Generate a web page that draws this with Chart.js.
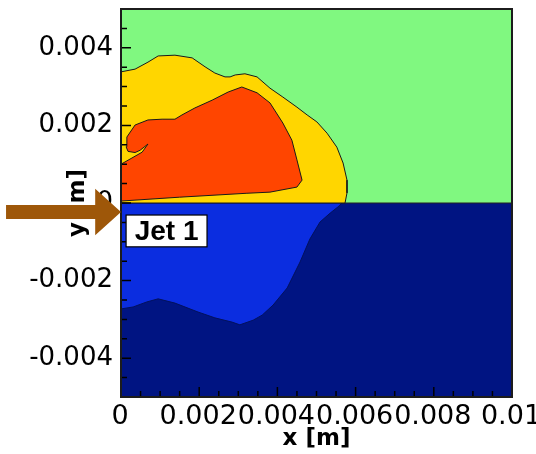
<!DOCTYPE html>
<html><head><meta charset="utf-8">
<script src="https://cdn.jsdelivr.net/npm/chart.js@4/dist/chart.umd.min.js"></script>
<style>html,body{margin:0;padding:0;background:#fff}#wrap{width:536px;height:454px}</style>
</head><body><div id="wrap"><canvas id="c" width="536" height="454"></canvas></div>
<script>
// ---- data (metres) ----
const xTickValues = [0, 0.002, 0.004, 0.006, 0.008, 0.01];
const xTickLabels = ['0', '0.002', '0.004', '0.006', '0.008', '0.01'];
const yTickValues = [-0.004, -0.002, 0, 0.002, 0.004];
const yTickLabels = ['-0.004', '-0.002', '0', '0.002', '0.004'];

const upperX = [0, 0.01, 0.01, 0, 0];
const upperY = [0, 0, 0.005, 0.005, 0];
const lowerX = [0, 0.01, 0.01, 0, 0];
const lowerY = [0, 0, -0.005, -0.005, 0];

const yellowX = [0, 0.00036, 0.00069, 0.00095, 0.00138, 0.00182, 0.00215, 0.00240, 0.00266, 0.00279, 0.00292, 0.00317, 0.00348, 0.00381, 0.00414, 0.00450, 0.00476, 0.00501, 0.00527, 0.00552, 0.00568, 0.00578, 0.00578, 0.00573, 0, 0];
const yellowY = [0.00338, 0.00345, 0.00363, 0.00379, 0.00381, 0.00374, 0.00351, 0.00335, 0.00325, 0.00325, 0.00330, 0.00333, 0.00325, 0.00296, 0.00273, 0.00247, 0.00227, 0.00209, 0.00180, 0.00144, 0.00103, 0.00059, 0.00026, 0, 0, 0.00338];

const redX = [0, 0, 0.00028, 0.00054, 0.00069, 0.00049, 0.00036, 0.00018, 0.00013, 0.00015, 0.00036, 0.00069, 0.00105, 0.00138, 0.00156, 0.00189, 0.00233, 0.00274, 0.00309, 0.00348, 0.00381, 0.00414, 0.00437, 0.00450, 0.00463, 0.00450, 0.00381, 0.00320, 0.00150, 0];
const redY = [0.00005, 0.00100, 0.00116, 0.00131, 0.00152, 0.00136, 0.00130, 0.00133, 0.00145, 0.00170, 0.00201, 0.00214, 0.00216, 0.00216, 0.00227, 0.00245, 0.00265, 0.00286, 0.00299, 0.00284, 0.00258, 0.00206, 0.00162, 0.00111, 0.00059, 0.00041, 0.00028, 0.00025, 0.00015, 0.00005];

const blueX = [0, 0, 0.00031, 0.00066, 0.00095, 0.00138, 0.00197, 0.00240, 0.00284, 0.00304, 0.00338, 0.00361, 0.00389, 0.00425, 0.00458, 0.00483, 0.00509, 0.00535, 0.00555, 0.00565, 0];
const blueY = [0, -0.00273, -0.00268, -0.00255, -0.00247, -0.00258, -0.00281, -0.00296, -0.00307, -0.00314, -0.00302, -0.00289, -0.00263, -0.00219, -0.00152, -0.00093, -0.00049, -0.00026, -0.00010, 0, 0];

// annotations (data units)
const jetLabel = 'Jet 1';
const jetBox = {x0: 0.00013, x1: 0.0022, y0: -0.00031, y1: -0.00113};
const arrow = {tailX: -0.00294, headBaseX: -0.00066, tipX: 0, y: -0.00023, shaftHalf: 0.00018, headHalf: 0.0006};

// ---- chart ----
const pts = (xs, ys) => xs.map((x, i) => ({x: x, y: ys[i]}));
const near = (v, arr) => arr.findIndex(a => Math.abs(a - v) < 1e-7);

function region(label, xs, ys, fillColor, lineColor, lw) {
  return {label, data: pts(xs, ys), fill: 'shape', backgroundColor: fillColor,
    borderColor: lineColor, borderWidth: lw, pointRadius: 0, tension: 0};
}

const fixedAxis = (w, h) => function (scale) {
  if (w) scale.width = w;
  if (h) scale.height = h;
  scale.paddingLeft = 0; scale.paddingRight = 0; scale.paddingTop = 0; scale.paddingBottom = 0;
};

const decor = {
  id: 'decor',
  afterDatasetsDraw(chart) {
    const {ctx, chartArea: a, scales: {x, y}} = chart;
    ctx.save();
    ctx.strokeStyle = '#000';
    ctx.lineWidth = 1.5;
    ctx.beginPath();
    x.ticks.forEach(t => {
      const px = x.getPixelForValue(t.value);
      const L = near(t.value, xTickValues) >= 0 ? 10 : 6;
      ctx.moveTo(px, a.bottom); ctx.lineTo(px, a.bottom - L);
    });
    y.ticks.forEach(t => {
      const py = y.getPixelForValue(t.value);
      const L = near(t.value, yTickValues) >= 0 ? 10 : 6;
      ctx.moveTo(a.left, py); ctx.lineTo(a.left + L, py);
    });
    ctx.stroke();
    ctx.lineWidth = 2;
    ctx.strokeStyle = '#1c1c1c';
    ctx.strokeRect(a.left, a.top, a.right - a.left, a.bottom - a.top);
    ctx.restore();
  },
  afterDraw(chart) {
    const {ctx, scales: {x, y}} = chart;
    ctx.save();
    // Jet label box
    const bx0 = x.getPixelForValue(jetBox.x0), bx1 = x.getPixelForValue(jetBox.x1);
    const by0 = y.getPixelForValue(jetBox.y0), by1 = y.getPixelForValue(jetBox.y1);
    ctx.fillStyle = '#fff';
    ctx.fillRect(bx0, by0, bx1 - bx0, by1 - by0);
    ctx.strokeStyle = '#000'; ctx.lineWidth = 1.2;
    ctx.strokeRect(bx0, by0, bx1 - bx0, by1 - by0);
    ctx.fillStyle = '#000';
    ctx.font = 'bold 28px "Liberation Sans", Arial, sans-serif';
    ctx.textAlign = 'center'; ctx.textBaseline = 'middle';
    ctx.fillText(jetLabel, (bx0 + bx1) / 2, (by0 + by1) / 2 + 1);
    // arrow
    const tx = x.getPixelForValue(arrow.tailX), hx = x.getPixelForValue(arrow.headBaseX), px = x.getPixelForValue(arrow.tipX);
    const cy = y.getPixelForValue(arrow.y);
    const sh = y.getPixelForValue(arrow.y - arrow.shaftHalf) - cy;
    const hh = y.getPixelForValue(arrow.y - arrow.headHalf) - cy;
    ctx.fillStyle = '#9e5709';
    ctx.beginPath();
    ctx.moveTo(tx, cy - sh); ctx.lineTo(hx, cy - sh); ctx.lineTo(hx, cy - hh);
    ctx.lineTo(px, cy); ctx.lineTo(hx, cy + hh); ctx.lineTo(hx, cy + sh); ctx.lineTo(tx, cy + sh);
    ctx.closePath(); ctx.fill();
    ctx.restore();
  }
};

new Chart(document.getElementById('c'), {
  type: 'line',
  data: {
    datasets: [
      region('red', redX, redY, '#ff4500', '#1a1a1a', 1),
      region('yellow', yellowX, yellowY, '#ffd600', '#1a1a1a', 1),
      region('blue', blueX, blueY, '#0b2de0', '#02115e', 1),
      region('upper', upperX, upperY, '#80f880', '#222', 1),
      region('lower', lowerX, lowerY, '#001482', '#001482', 0)
    ]
  },
  options: {
    responsive: false, animation: false, devicePixelRatio: 1,
    layout: {padding: {left: 0, right: 24, top: 9, bottom: 0}},
    plugins: {legend: {display: false}, tooltip: {enabled: false}},
    scales: {
      x: {
        type: 'linear', min: 0, max: 0.01,
        grid: {display: false, drawTicks: false}, border: {display: false},
        ticks: {
          stepSize: 0.0005, autoSkip: false, maxRotation: 0, minRotation: 0, maxTicksLimit: 100,
          padding: 4, labelOffset: -1, color: '#000',
          font: {family: '"DejaVu Sans", sans-serif', size: 27},
          callback: v => { const i = near(v, xTickValues); return i >= 0 ? xTickLabels[i] : ''; }
        },
        title: {display: true, text: 'x [m]', color: '#000', padding: {top: 0, bottom: 1},
          font: {family: '"DejaVu Sans", sans-serif', size: 23, weight: 'bold'}},
        afterFit: fixedAxis(0, 57)
      },
      y: {
        type: 'linear', min: -0.005, max: 0.005,
        grid: {display: false, drawTicks: false}, border: {display: false},
        ticks: {
          stepSize: 0.0005, autoSkip: false, maxTicksLimit: 100,
          padding: 8, color: '#000',
          font: {family: '"DejaVu Sans", sans-serif', size: 26},
          callback: v => { const i = near(v, yTickValues); return i >= 0 ? yTickLabels[i] : ''; }
        },
        title: {display: true, text: 'y [m]', color: '#000', padding: {top: 64, bottom: 0},
          font: {family: '"DejaVu Sans", sans-serif', size: 23, weight: 'bold'}},
        afterFit: fixedAxis(121, 0)
      }
    }
  },
  plugins: [decor]
});
</script>
</body></html>
